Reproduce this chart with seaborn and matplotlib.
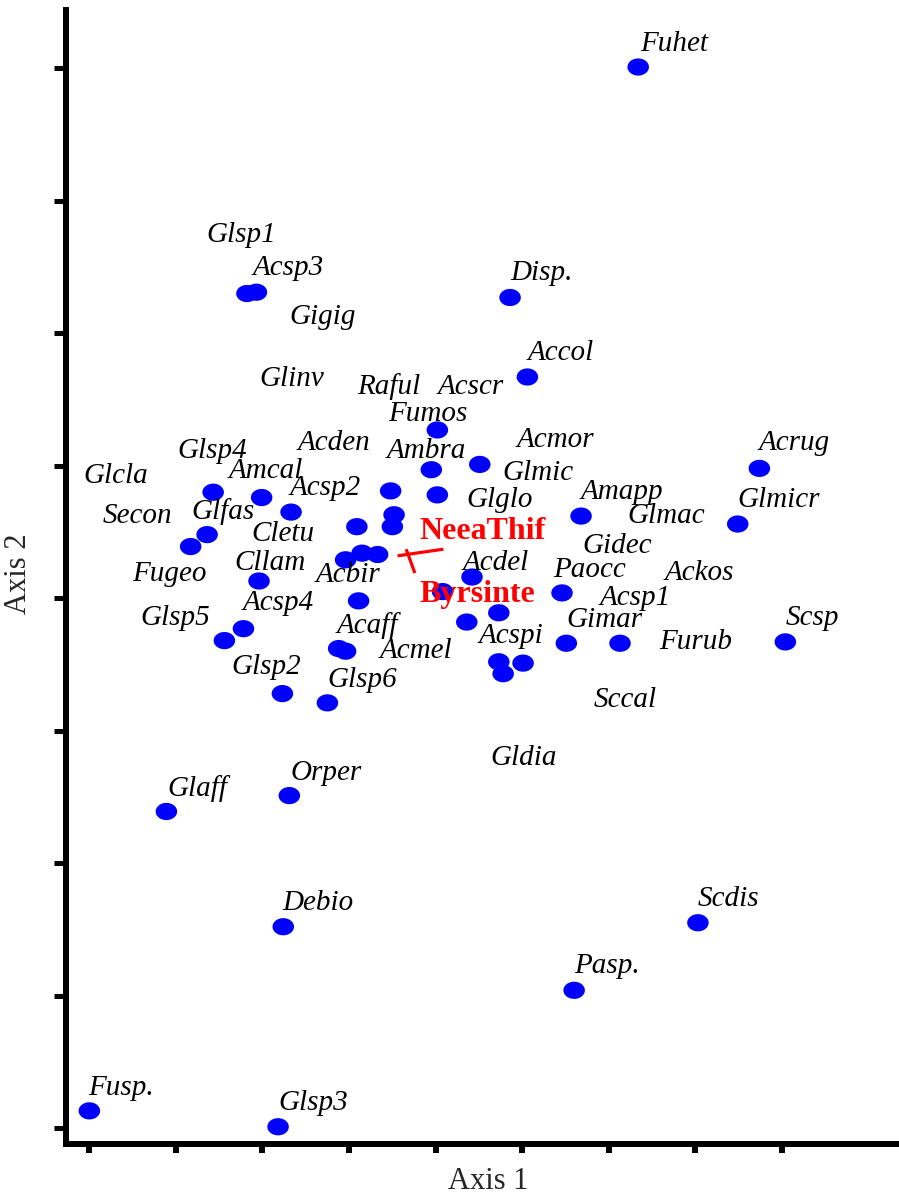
import numpy as np
import pandas as pd
import matplotlib
matplotlib.use("Agg")
import matplotlib.pyplot as plt
from matplotlib.path import Path
import seaborn as sns

# Species scores on ordination axes 1 and 2
score_x = [6.34, 1.82, 1.93, 4.86, 5.06, 4.02, 3.95, 4.51, 7.74, 1.43,
           1.99, 2.33, 3.48, 4.02, 3.52, 3.50, 3.09, 5.68, 7.49, 1.36,
           1.17, 2.96, 3.15, 3.33, 1.96, 3.11, 4.42, 4.08, 5.46, 4.73,
           4.36, 1.78, 1.56, 2.88, 2.96, 5.51, 6.13, 8.04, 4.73, 4.78,
           5.01, 2.23, 2.75, 0.89, 2.31, 2.24, 7.03, 5.60, 0.00, 2.18]
score_y = [8.01, 6.30, 6.31, 6.27, 5.67, 5.27, 4.97, 5.01, 4.98, 4.80,
           4.76, 4.65, 4.81, 4.78, 4.63, 4.54, 4.54, 4.62, 4.56, 4.48,
           4.39, 4.29, 4.34, 4.33, 4.13, 3.98, 4.16, 4.05, 4.04, 3.89,
           3.82, 3.77, 3.68, 3.62, 3.60, 3.66, 3.66, 3.67, 3.52, 3.43,
           3.51, 3.28, 3.21, 2.39, 2.51, 1.52, 1.55, 1.04, 0.13, 0.01]

# Species codes with the point where each label starts (left end, baseline)
species = ["Fuhet", "Glsp1", "Acsp3", "Gigig", "Disp.", "Glinv", "Raful",
           "Acscr", "Accol", "Fumos", "Acden", "Ambra", "Acmor", "Acrug",
           "Glsp4", "Glcla", "Amcal", "Glmic", "Acsp2", "Glglo", "Amapp",
           "Glmicr", "Secon", "Glfas", "Glmac", "Cletu", "Gidec", "Fugeo",
           "Cllam", "Acbir", "Acdel", "Paocc", "Ackos", "Acsp1", "Glsp5",
           "Acsp4", "Acaff", "Gimar", "Scsp", "Acspi", "Furub", "Acmel",
           "Glsp2", "Glsp6", "Sccal", "Gldia", "Orper", "Glaff", "Debio",
           "Scdis", "Pasp.", "Fusp.", "Glsp3"]
label_x = [6.36, 1.35, 1.89, 2.31, 4.86, 1.96, 3.09,
           4.02, 5.06, 3.45, 2.40, 3.43, 4.94, 7.73,
           1.02, -0.07, 1.61, 4.77, 2.31, 4.35, 5.67,
           7.49, 0.15, 1.18, 6.22, 1.87, 5.69, 0.50,
           1.67, 2.61, 4.31, 5.36, 6.65, 5.89, 0.59,
           1.77, 2.86, 5.51, 8.04, 4.50, 6.58, 3.35,
           1.64, 2.75, 5.82, 4.63, 2.32, 0.90, 2.23,
           7.03, 5.60, -0.01, 2.18]
label_y = [8.13, 6.69, 6.44, 6.07, 6.40, 5.60, 5.54,
           5.54, 5.80, 5.34, 5.12, 5.06, 5.14, 5.12,
           5.06, 4.87, 4.91, 4.89, 4.78, 4.69, 4.75,
           4.69, 4.57, 4.60, 4.57, 4.43, 4.34, 4.13,
           4.21, 4.12, 4.21, 4.16, 4.14, 3.95, 3.80,
           3.91, 3.74, 3.78, 3.80, 3.66, 3.62, 3.55,
           3.43, 3.33, 3.18, 2.74, 2.63, 2.51, 1.65,
           1.68, 1.17, 0.25, 0.14]

# Environmental vectors of the joint plot
vector_names = ["NeeaThif", "Byrsinte"]
vector_x0 = [3.56, 3.66]
vector_y0 = [4.32, 4.37]
vector_x1 = [4.09, 3.76]
vector_y1 = [4.37, 4.19]
vector_label_x = [3.81, 3.81]
vector_label_y = [4.45, 3.97]

axis_ticks = [0, 1, 2, 3, 4, 5, 6, 7, 8]

sns.set_style("ticks")
plt.rcParams["font.family"] = ["Liberation Serif", "DejaVu Serif"]

fig = plt.figure(figsize=(8.99, 11.96), dpi=100)
ax = fig.add_axes([0.0734, 0.0435, 0.9244, 0.9481])

# elliptical marker, a little wider than tall
t = np.linspace(0, 2 * np.pi, 60)
ellipse = Path(np.column_stack([np.cos(t), 0.8 * np.sin(t)]), closed=True)

scores = pd.DataFrame({"Axis 1": score_x, "Axis 2": score_y})
sns.scatterplot(data=scores, x="Axis 1", y="Axis 2", ax=ax,
                marker=ellipse, s=240, color="#0000ff",
                edgecolor="none", linewidth=0, zorder=3)

for name, lx, ly in zip(species, label_x, label_y):
    ax.text(lx, ly, name, fontsize=21, style="italic", color="black",
            ha="left", va="baseline", zorder=4)

for x0, y0, x1, y1 in zip(vector_x0, vector_y0, vector_x1, vector_y1):
    ax.plot([x0, x1], [y0, y1], color="#ff0000", linewidth=2.3,
            solid_capstyle="butt", zorder=5)

for name, lx, ly in zip(vector_names, vector_label_x, vector_label_y):
    ax.text(lx, ly, name, fontsize=23, fontweight="bold", color="#ff0000",
            ha="left", va="baseline", zorder=6)

ax.set_xlim(-0.27, 9.33)
ax.set_ylim(-0.12, 8.44)
ax.set_xticks(axis_ticks)
ax.set_yticks(axis_ticks)
ax.tick_params(axis="x", direction="out", length=6.5, width=4.3,
               color="black", labelbottom=False)
ax.tick_params(axis="y", direction="out", length=8.5, width=3.6,
               color="black", labelleft=False)

sns.despine(ax=ax, top=True, right=True)
for side in ("left", "bottom"):
    ax.spines[side].set_linewidth(4.3)
    ax.spines[side].set_color("black")

ax.set_xlabel("Axis 1", fontsize=22)
ax.set_ylabel("Axis 2", fontsize=22)
ax.xaxis.set_label_coords(0.508, -0.020)
ax.yaxis.set_label_coords(-0.040, 0.503)

fig.savefig("out.png", dpi=100, facecolor="white")
